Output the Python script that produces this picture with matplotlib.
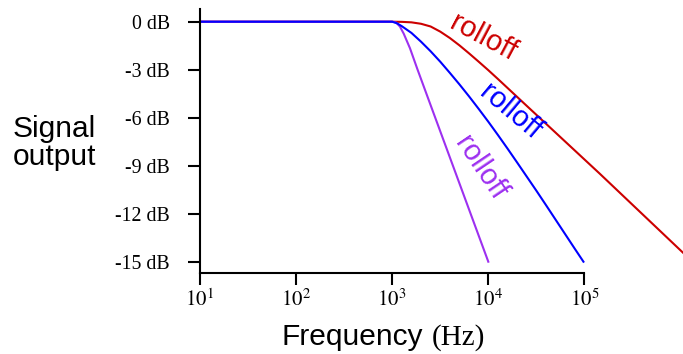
import numpy as np
import matplotlib
matplotlib.use("Agg")
import matplotlib.pyplot as plt
from matplotlib.ticker import NullLocator

plt.rcParams["font.family"] = ["Liberation Sans", "DejaVu Sans"]
plt.rcParams["mathtext.fontset"] = "stix"

# curves: log10(frequency) and output in dB
red_exp = [1.0, 3.0, 3.1, 3.2, 3.3, 3.4, 3.5, 3.6, 3.7, 3.8, 3.9, 4.0, 4.1, 4.2, 4.3, 4.4, 4.54, 5.16, 6.03]
red_db = [0, 0, -0.01, -0.04, -0.13, -0.3, -0.62, -1.02, -1.48, -1.98, -2.5, -3.03, -3.58, -4.14, -4.7, -5.26, -6.04, -9.5, -14.46]

blue_exp = [1.0, 3.0, 3.05, 3.1, 3.2, 3.3, 3.4, 3.5, 3.6, 3.7, 3.8, 3.9, 4.0, 4.1, 4.2, 4.3, 4.4, 4.5, 4.6, 4.7, 4.8, 4.9, 4.99]
blue_db = [0, 0, -0.1, -0.28, -0.7, -1.25, -1.85, -2.5, -3.2, -3.92, -4.67, -5.45, -6.25, -7.08, -7.93, -8.8, -9.68, -10.56, -11.46, -12.37, -13.28, -14.19, -15.0]

purple_exp = [1.0, 3.0, 3.04, 3.08, 3.12, 3.185, 3.26, 3.37, 3.83, 4.0]
purple_db = [0, 0, -0.05, -0.3, -0.75, -1.66, -2.93, -4.73, -12.23, -15.0]

x_ticks = [1e1, 1e2, 1e3, 1e4, 1e5]
x_labels = [r"$10^{1}$", r"$10^{2}$", r"$10^{3}$", r"$10^{4}$", r"$10^{5}$"]
y_ticks = [0, -3, -6, -9, -12, -15]
y_labels = ["0 dB", "-3 dB", "-6 dB", "-9 dB", "-12 dB", "-15 dB"]

red = "#cc0000"
blue = "#0000ff"
purple = "#9d30f0"

W, H = 683, 354
fig = plt.figure(figsize=(W / 100, H / 100), dpi=100)
ax = fig.add_axes([200 / W, 1 - 273.3 / H, 483 / W, (273.3 - 9.3) / H])

ax.plot(10 ** np.array(red_exp), red_db, color=red, lw=1.5)
ax.plot(10 ** np.array(purple_exp), purple_db, color=purple, lw=1.5)
ax.plot(10 ** np.array(blue_exp), blue_db, color=blue, lw=1.5)

ax.set_xscale("log")
ax.set_xlim(10, 10 ** (1 + 483 / 96.1))
ax.set_ylim(-(273.3 - 21.7) / 16, (21.7 - 9.3) / 16)

for s in ["top", "right"]:
    ax.spines[s].set_visible(False)
ax.spines["bottom"].set_bounds(10, 1e5)
ax.spines["bottom"].set_linewidth(1.5)
ax.spines["left"].set_linewidth(1.5)

ax.xaxis.set_minor_locator(NullLocator())
ax.set_xticks(x_ticks)
ax.set_xticklabels(x_labels, fontsize=15)
ax.set_yticks(y_ticks)
ax.set_yticklabels(y_labels, fontsize=14.3, family="Liberation Serif")
ax.tick_params(axis="x", length=8.6, width=1.5, pad=2)
ax.tick_params(axis="y", length=8.6, width=1.5, pad=13)

ax.text(10 ** 3.945, -1.02, "rolloff", color=red, fontsize=21, rotation=-28,
        ha="center", va="center", rotation_mode="anchor")
ax.text(10 ** 4.226, -5.65, "rolloff", color=blue, fontsize=21, rotation=-40,
        ha="center", va="center", rotation_mode="anchor")
ax.text(10 ** 3.914, -9.14, "rolloff", color=purple, fontsize=21, rotation=-56,
        ha="center", va="center", rotation_mode="anchor")

fig.text(13 / W, 1 - 137 / H, "Signal", fontsize=21.5, ha="left", va="baseline")
fig.text(13 / W, 1 - 165 / H, "output", fontsize=21.5, ha="left", va="baseline")
fig.text(282 / W, 1 - 345 / H, "Frequency", fontsize=21.5, ha="left", va="baseline")
fig.text(432 / W, 1 - 345 / H, "(Hz)", fontsize=21, ha="left", va="baseline",
         family="Liberation Serif")

fig.savefig("out.png", dpi=100)
